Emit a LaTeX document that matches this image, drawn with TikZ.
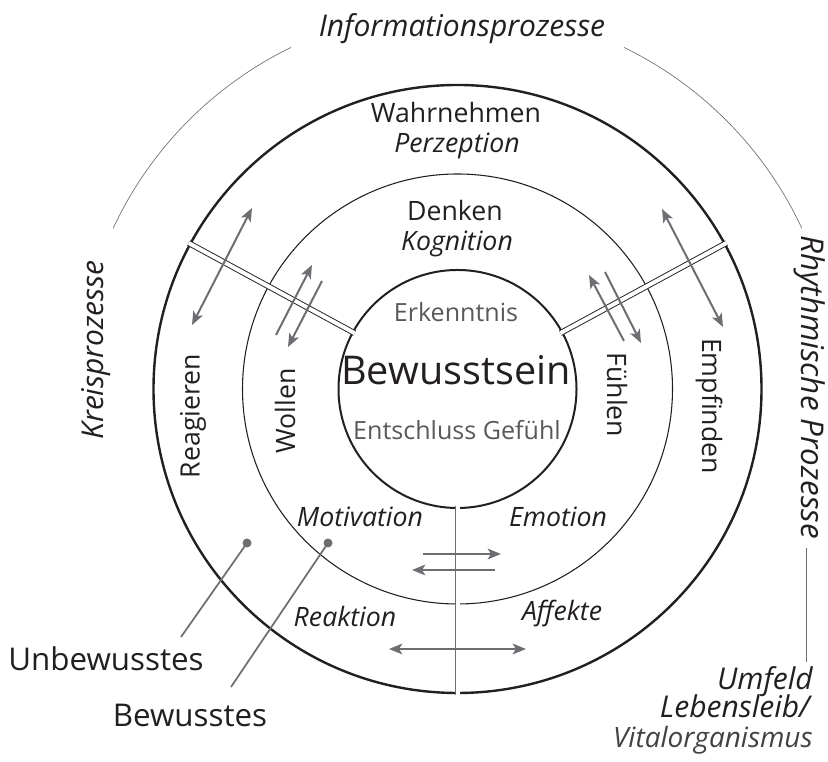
\documentclass[tikz,border=0pt]{standalone}
\usepackage{fontspec}
\setmainfont{Open Sans}
\usetikzlibrary{arrows.meta, calc}
\definecolor{ink}{HTML}{231F20}
\definecolor{arrowgray}{HTML}{6D6E71}
\definecolor{softgray}{HTML}{58595B}
\tikzset{
  ringtext/.style={font=\fontsize{20}{22}\selectfont, text=ink, inner sep=0pt},
  ringit/.style={font=\fontsize{20}{22}\selectfont\itshape, text=ink, inner sep=0pt},
  coretext/.style={font=\fontsize{18.8}{21}\selectfont, text=softgray, inner sep=0pt},
  outertext/.style={font=\fontsize{22.5}{24}\selectfont\itshape, text=ink, inner sep=0pt},
  legendtext/.style={font=\fontsize{23.5}{25}\selectfont, text=ink, inner sep=0pt},
  arrow/.style={draw=arrowgray, line width=1.5pt, -{Stealth[length=10pt, width=8pt, inset=2.5pt]}},
  twoway/.style={arrow, {Stealth[length=10pt, width=8pt, inset=2.5pt]}-{Stealth[length=10pt, width=8pt, inset=2.5pt]}},
  divider/.style={draw=ink, double=white, double distance=3pt, line width=0.7pt},
  graydivider/.style={divider, draw=arrowgray},
  pointer/.style={draw=arrowgray, line width=1.3pt},
  guide/.style={draw=arrowgray, line width=0.5pt}
}

\begin{document}
\begin{tikzpicture}[x=0.75pt, y=0.75pt]
  \useasboundingbox (0,0) rectangle (828,762);
  \coordinate (c) at (457.5,373);

  % rings
  \draw[ink, line width=1.8pt] (c) circle[radius=304];
  \draw[ink, line width=0.8pt] (c) circle[radius=215];
  \draw[ink, line width=1.5pt] (c) circle[radius=119];

  % process arcs
  \draw[guide] ($(c)+(116:380)$) arc[start angle=116, end angle=155, radius=380];
  \draw[guide] ($(c)+(25:380)$) arc[start angle=25, end angle=64, radius=380];
  \coordinate (rhyA) at (806,214);
  \coordinate (rhyB) at (806,100);
  \draw[guide] (rhyA) -- (rhyB);

  % dividers
  \coordinate (sepLa) at ($(c)+(151.5:117)$);
  \coordinate (sepLb) at ($(c)+(151.5:306)$);
  \coordinate (sepRa) at ($(c)+(28.5:117)$);
  \coordinate (sepRb) at ($(c)+(28.5:306)$);
  \coordinate (sepBa) at ($(c)+(270:117)$);
  \coordinate (sepBb) at ($(c)+(270:306)$);
  \draw[divider] (sepLa) -- (sepLb);
  \draw[divider] (sepRa) -- (sepRb);
  \draw[graydivider] (sepBa) -- (sepBb);

  % arrows
  \coordinate (reagA) at (252,554);
  \coordinate (reagB) at (192,437);
  \coordinate (wolUpA) at (276,427);
  \coordinate (wolUpB) at (312,497);
  \coordinate (wolDnA) at (322,481);
  \coordinate (wolDnB) at (288,415);
  \coordinate (fueUpA) at (624,421);
  \coordinate (fueUpB) at (589,487);
  \coordinate (fueDnA) at (605,490);
  \coordinate (fueDnB) at (641,419);
  \coordinate (empA) at (662,553);
  \coordinate (empB) at (723,435);
  \coordinate (emoA) at (423,208);
  \coordinate (emoB) at (501,208);
  \coordinate (motA) at (495,192);
  \coordinate (motB) at (412,192);
  \coordinate (affA) at (389,113);
  \coordinate (affB) at (526,113);
  \draw[twoway] (reagA) -- (reagB);
  \draw[arrow] (wolUpA) -- (wolUpB);
  \draw[arrow] (wolDnA) -- (wolDnB);
  \draw[arrow] (fueUpA) -- (fueUpB);
  \draw[arrow] (fueDnA) -- (fueDnB);
  \draw[twoway] (empA) -- (empB);
  \draw[arrow] (emoA) -- (emoB);
  \draw[arrow] (motA) -- (motB);
  \draw[twoway] (affA) -- (affB);

  % texts
  \node (info) [outertext, anchor=base] at (462,725) {Informationsprozesse};
  \node (kreis) [outertext, rotate=90] at (96,412) {Kreisprozesse};
  \node (rhyth) [outertext, font=\fontsize{23.5}{25}\selectfont\itshape, rotate=-90] at (810,375) {Rhythmische Prozesse};
  \node (wahr) [ringtext, anchor=base] at (456,639) {Wahrnehmen};
  \node (perz) [ringit, anchor=base] at (457,609) {Perzeption};
  \node (denk) [ringtext, anchor=base] at (455,541) {Denken};
  \node (kogn) [ringit, anchor=base] at (457,511) {Kognition};
  \node (erk) [coretext, anchor=base] at (456,440) {Erkenntnis};
  \node (bew) [font=\fontsize{29.7}{31}\selectfont, text=ink, inner sep=0pt, anchor=base] at (456,377) {Bewusstsein};
  \node (ent) [coretext, anchor=base] at (457,322) {Entschluss Gefühl};
  \node (reag) [ringtext, rotate=90] at (193,346) {Reagieren};
  \node (woll) [ringtext, rotate=90] at (285,351) {Wollen};
  \node (fuehl) [ringtext, rotate=-90] at (617,367) {Fühlen};
  \node (empf) [ringtext, rotate=-90] at (709,356) {Empfinden};
  \node (moti) [ringit, anchor=base] at (360,235) {Motivation};
  \node (emot) [ringit, anchor=base] at (558,235) {Emotion};
  \node (reak) [ringit, anchor=base] at (345,135) {Reaktion};
  \node (affe) [ringit, anchor=base] at (562,141) {Affekte};
  \node (unbew) [legendtext, anchor=base] at (106,91) {Unbewusstes};
  \node (bewst) [legendtext, anchor=base] at (190,35) {Bewusstes};
  \node (umf) [outertext, anchor=base east] at (813,72) {Umfeld};
  \node (leb) [outertext, anchor=base east] at (810,44) {Lebensleib/};
  \node (vit) [outertext, font=\fontsize{21}{23}\selectfont\itshape, anchor=base east, text=ink!85] at (813,14) {Vitalorganismus};

  % pointers
  \coordinate (dotU) at (247,219);
  \coordinate (dotB) at (328,219);
  \coordinate (endU) at (181,125);
  \coordinate (endB) at (231,75);
  \fill[arrowgray] (dotU) circle[radius=4.5];
  \fill[arrowgray] (dotB) circle[radius=4.5];
  \draw[pointer] (dotU) -- (endU);
  \draw[pointer] (dotB) -- (endB);
\end{tikzpicture}
\end{document}
